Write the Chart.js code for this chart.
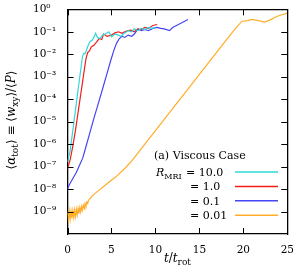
<!DOCTYPE html>
<html><head><meta charset="utf-8">
<script src="https://cdn.jsdelivr.net/npm/chart.js@4/dist/chart.umd.min.js"></script>
<style>html,body{margin:0;padding:0;background:#fff;}canvas{display:block;}</style>
</head><body>
<canvas id="c" width="304" height="274"></canvas>
<script>
// ---- data ----
const legendTitle = '(a) Viscous Case';
const seriesLabels = ['10.0', '1.0', '0.1', '0.01'];
const xTickValues = [0, 5, 10, 15, 20, 25];
const yTickExponents = [0, -1, -2, -3, -4, -5, -6, -7, -8, -9];

const tR10 = [0, 0.3, 0.6, 1.0, 1.4, 1.7, 1.85, 2.0, 2.2, 2.4, 2.6, 2.8, 3.0, 3.2, 3.4, 3.7, 4.0, 4.3, 4.7, 5.0, 5.4, 5.8, 6.1, 6.5, 6.9, 7.3, 7.6, 8.0, 8.4, 8.8, 9.2, 9.6, 10.0];
const vR10 = [1.6e-7, 5.0e-7, 4.0e-6, 6.3e-5, 1.0e-3, 7.9e-3, 1.1e-2, 1.05e-2, 1.7e-2, 2.8e-2, 3.8e-2, 4.2e-2, 5.6e-2, 8.5e-2, 5.6e-2, 5.0e-2, 7.1e-2, 7.9e-2, 0.1, 6.0e-2, 7.9e-2, 7.1e-2, 6.3e-2, 8.9e-2, 0.112, 0.1, 0.135, 0.112, 0.141, 0.126, 0.158, 0.141, 0.158];

const tR1 = [0, 0.3, 0.6, 0.9, 1.2, 1.5, 1.8, 2.1, 2.3, 2.5, 2.7, 3.0, 3.3, 3.6, 3.9, 4.1, 4.5, 5.0, 5.4, 5.8, 6.2, 6.5, 6.9, 7.2, 7.6, 8.0, 8.4, 8.8, 9.2, 9.7, 10.2];
const vR1 = [7.9e-8, 2.0e-7, 7.9e-7, 4.0e-6, 2.5e-5, 1.6e-4, 1.0e-3, 6.3e-3, 1.2e-2, 1.4e-2, 2.1e-2, 2.5e-2, 3.5e-2, 5.0e-2, 4.5e-2, 7.9e-2, 6.3e-2, 7.1e-2, 8.9e-2, 0.1, 8.5e-2, 0.1, 0.112, 0.118, 0.1, 0.135, 0.125, 0.158, 0.141, 0.19, 0.21];

const tR01 = [0, 0.3, 1.0, 1.75, 2.0, 2.5, 3.0, 3.5, 4.0, 4.5, 4.9, 5.3, 5.6, 5.9, 6.2, 6.5, 6.9, 7.3, 7.6, 8.0, 8.4, 8.8, 9.2, 9.7, 10.2, 10.6, 11.0, 11.6, 12.0, 12.4, 13.0, 13.7];
const vR01 = [1.07e-8, 1.8e-8, 5.4e-8, 2.5e-7, 5.6e-7, 2.8e-6, 1.4e-5, 6.3e-5, 3.0e-4, 1.4e-3, 5.0e-3, 1.6e-2, 3.2e-2, 5.0e-2, 6.3e-2, 5.6e-2, 7.1e-2, 6.3e-2, 7.9e-2, 0.132, 0.112, 0.126, 0.112, 0.141, 0.158, 0.141, 0.135, 0.112, 0.158, 0.19, 0.25, 0.355];

const tR001 = [0, 0.1, 0.2, 0.3, 0.4, 0.5, 0.6, 0.7, 0.8, 0.9, 1.0, 1.1, 1.2, 1.3, 1.4, 1.5, 1.6, 1.7, 1.8, 1.9, 2.0, 2.1, 2.2, 2.3, 2.4, 2.6, 2.8, 3.0, 3.5, 4.0, 4.7, 5.5, 6.6, 7.4, 8.2, 9.0, 10.2, 12.0, 14.0, 16.0, 18.0, 19.2, 19.85, 20.5, 21.0, 21.7, 22.4, 23.0, 23.8, 24.3, 25.0];
const vR001 = [1.0e-9, 4.2e-10, 1.02e-9, 4.5e-10, 1.05e-9, 5.0e-10, 1.1e-9, 5.5e-10, 1.15e-9, 6.0e-10, 1.25e-9, 7.0e-10, 1.35e-9, 8.0e-10, 1.5e-9, 9.5e-10, 1.7e-9, 1.15e-9, 1.9e-9, 1.4e-9, 2.3e-9, 1.8e-9, 2.7e-9, 2.3e-9, 3.2e-9, 3.9e-9, 4.8e-9, 5.8e-9, 8.3e-9, 1.2e-8, 2.0e-8, 3.5e-8, 8.9e-8, 2.0e-7, 5.0e-7, 1.26e-6, 5.0e-6, 4.0e-5, 4.0e-4, 4.0e-3, 4.0e-2, 0.158, 0.295, 0.316, 0.355, 0.316, 0.27, 0.33, 0.48, 0.56, 0.68];

// ---- styling ----
const FONT = "'DejaVu Serif','Liberation Serif',serif";
const colors = ['#2fd8d8', '#f21d1d', '#4545f5', '#ffad2a'];

function pts(t, v) { return t.map((x, i) => ({ x: x, y: v[i] })); }
const supMap = { '0': '⁰', '1': '¹', '2': '²', '3': '³', '4': '⁴', '5': '⁵', '6': '⁶', '7': '⁷', '8': '⁸', '9': '⁹', '-': '⁻' };
function sup(n) { return String(n).split('').map(c => supMap[c]).join(''); }

function drawRich(ctx, segs, x, y, size, align) {
  const fonts = {
    n: size + 'px ' + FONT,
    i: 'italic ' + size + 'px ' + FONT,
    s: Math.round(size * 0.72) + 'px ' + FONT
  };
  let w = 0;
  for (const [t, s] of segs) { ctx.font = fonts[s]; w += ctx.measureText(t).width; }
  let cx = align === 'center' ? x - w / 2 : x;
  ctx.textBaseline = 'alphabetic';
  ctx.textAlign = 'left';
  for (const [t, s] of segs) {
    ctx.font = fonts[s];
    ctx.fillText(t, cx, y + (s === 's' ? size * 0.25 : 0));
    cx += ctx.measureText(t).width;
  }
  return w;
}

const innerTicks = {
  id: 'innerTicks',
  afterDraw(chart) {
    const ctx = chart.ctx, a = chart.chartArea, L = 6;
    const xs = chart.scales.x, ys = chart.scales.y;
    ctx.save();
    ctx.strokeStyle = '#000';
    ctx.lineWidth = 1;
    ctx.beginPath();
    xs.ticks.forEach(t => {
      const p = Math.round(xs.getPixelForValue(t.value)) + 0.5;
      ctx.moveTo(p, a.bottom); ctx.lineTo(p, a.bottom - L);
      ctx.moveTo(p, a.top); ctx.lineTo(p, a.top + L);
    });
    ys.ticks.forEach(t => {
      const p = Math.round(ys.getPixelForValue(t.value)) + 0.5;
      ctx.moveTo(a.left, p); ctx.lineTo(a.left + L, p);
      ctx.moveTo(a.right, p); ctx.lineTo(a.right - L, p);
    });
    ctx.stroke();
    ctx.restore();
  }
};

const decor = {
  id: 'decor',
  afterDraw(chart) {
    const ctx = chart.ctx;
    const a = chart.chartArea;
    ctx.save();
    ctx.fillStyle = '#000';
    // x-axis title
    drawRich(ctx, [['t', 'i'], ['/', 'n'], ['t', 'i'], ['rot', 's']], (a.left + a.right) / 2, 262, 12, 'center');
    // y-axis title (rotated)
    ctx.save();
    ctx.translate(15, 120);
    ctx.rotate(-Math.PI / 2);
    drawRich(ctx, [['⟨', 'n'], ['α', 'i'], ['tot', 's'], ['⟩ ≡ ⟨', 'n'], ['w', 'i'], ['xy', 's'], ['⟩/⟨', 'n'], ['P', 'i'], ['⟩', 'n']], 0, 0, 12, 'center');
    ctx.restore();
    // legend
    ctx.fillStyle = '#000';
    drawRich(ctx, [[legendTitle, 'n']], a.left + 86.5, 159, 11, 'left');
    const rowY0 = 172, rowDy = 14.4;
    chart.data.datasets.forEach((ds, i) => {
      const y = rowY0 + i * rowDy;
      if (i === 0) {
        drawRich(ctx, [['R', 'i'], ['MRI', 's']], a.left + 88.5, y + 4, 11, 'left');
        drawRich(ctx, [['= ' + seriesLabels[i], 'n']], a.left + 118.5, y + 4, 11, 'left');
      } else {
        drawRich(ctx, [['= ' + seriesLabels[i], 'n']], a.left + 122.5, y + 4, 11, 'left');
      }
      ctx.strokeStyle = ds.borderColor;
      ctx.lineWidth = 1.5;
      ctx.beginPath();
      ctx.moveTo(a.left + 167.5, y);
      ctx.lineTo(a.left + 210.5, y);
      ctx.stroke();
    });
    ctx.restore();
  }
};

const axisCommon = {
  grid: { drawOnChartArea: false, drawTicks: false, color: '#000', lineWidth: 1 },
  border: { display: true, color: '#000', width: 1.3 }
};

new Chart(document.getElementById('c'), {
  type: 'line',
  data: {
    datasets: [
      { label: 'R_MRI = 10.0', data: pts(tR10, vR10), borderColor: colors[0] },
      { label: 'R_MRI = 1.0', data: pts(tR1, vR1), borderColor: colors[1] },
      { label: 'R_MRI = 0.1', data: pts(tR01, vR01), borderColor: colors[2] },
      { label: 'R_MRI = 0.01', data: pts(tR001, vR001), borderColor: colors[3] }
    ].map(d => Object.assign(d, { borderWidth: 1.2, pointRadius: 0, tension: 0, fill: false }))
  },
  options: {
    responsive: false,
    devicePixelRatio: 1,
    animation: false,
    layout: { padding: { left: 33, right: 9.5, top: 7, bottom: 0 } },
    plugins: { legend: { display: false }, tooltip: { enabled: false } },
    scales: {
      x: Object.assign({}, axisCommon, {
        type: 'linear', position: 'bottom', min: 0, max: 25,
        afterBuildTicks: s => { s.ticks = xTickValues.map(v => ({ value: v })); },
        afterFit: s => { s.height = 40; },
        ticks: { padding: 10, color: '#000', font: { family: FONT, size: 10.5 }, autoSkip: false, maxRotation: 0 }
      }),
      x2: Object.assign({}, axisCommon, {
        type: 'linear', position: 'top', min: 0, max: 25,
        afterBuildTicks: s => { s.ticks = xTickValues.map(v => ({ value: v })); },
        afterFit: s => { s.height = 0; },
        ticks: { display: false }
      }),
      y: Object.assign({}, axisCommon, {
        type: 'logarithmic', position: 'left', min: 1e-10, max: 1,
        afterBuildTicks: s => { s.ticks = yTickExponents.map(e => ({ value: Math.pow(10, e) })); },
        afterFit: s => { s.width = 34.5; },
        ticks: {
          crossAlign: 'far', color: '#000', font: { family: FONT, size: 10.5 }, autoSkip: false,
          callback: v => '10' + sup(Math.round(Math.log10(v)))
        }
      }),
      y2: Object.assign({}, axisCommon, {
        type: 'logarithmic', position: 'right', min: 1e-10, max: 1,
        afterBuildTicks: s => { s.ticks = yTickExponents.map(e => ({ value: Math.pow(10, e) })); },
        afterFit: s => { s.width = 0; },
        ticks: { display: false }
      })
    }
  },
  plugins: [innerTicks, decor]
});
</script>
</body></html>
